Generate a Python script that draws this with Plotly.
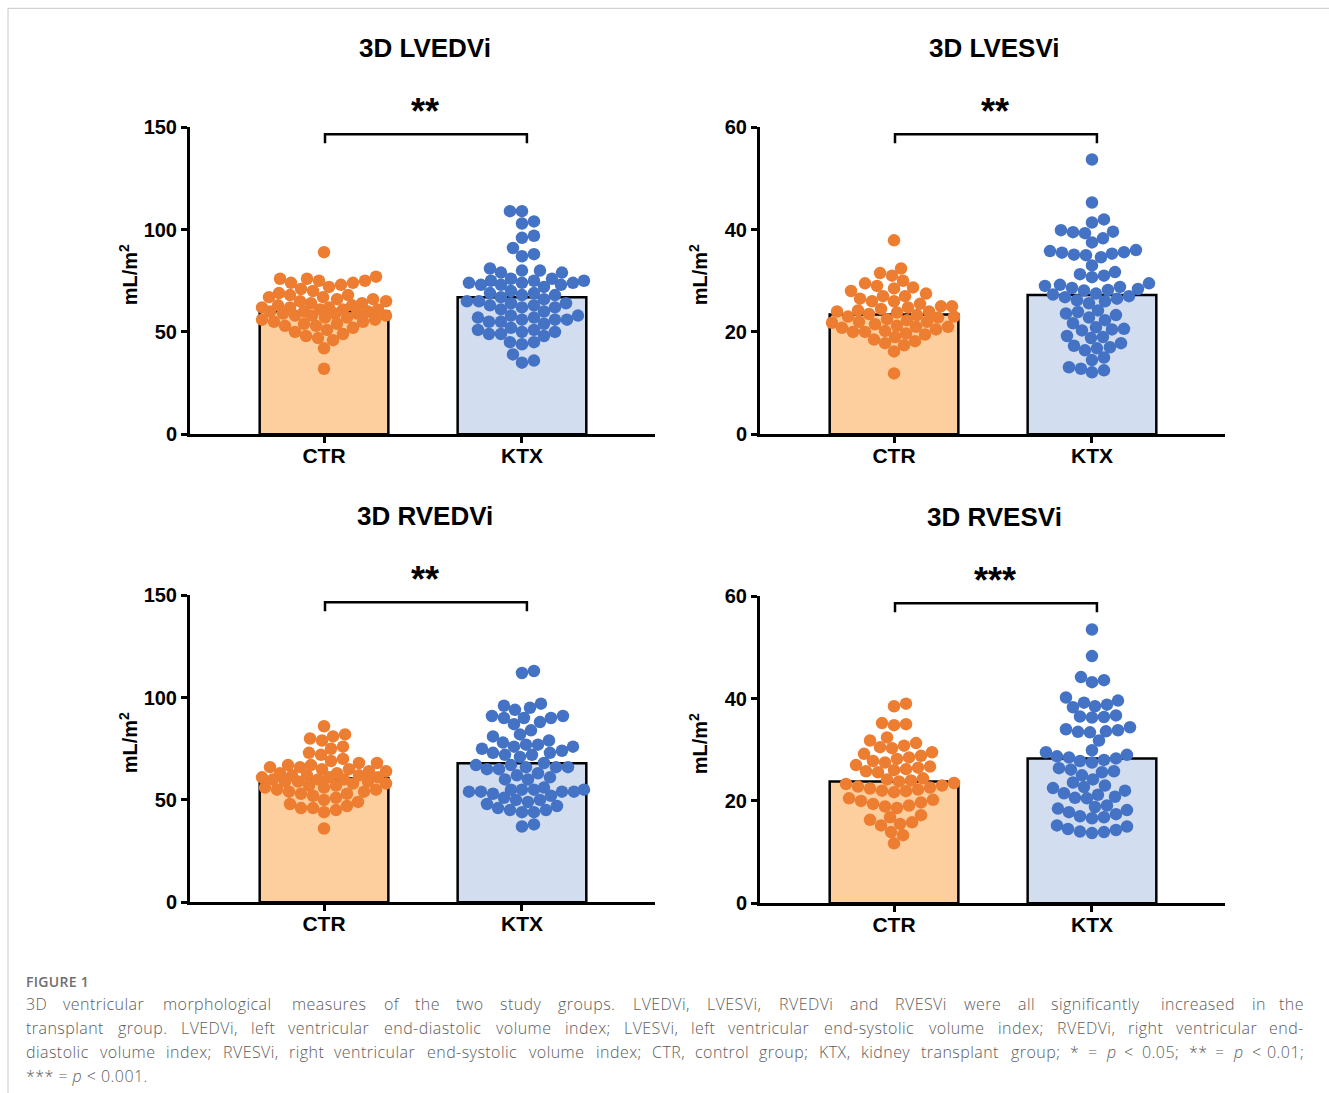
import re
import numpy as np
import plotly.graph_objects as go

# ---------------- data ----------------
categories = ["CTR", "KTX"]
titles = ["3D LVEDVi", "3D LVESVi", "3D RVEDVi", "3D RVESVi"]
stars = ["**", "**", "**", "***"]
y_max = [150, 60, 150, 60]
y_ticks = [[0, 50, 100, 150], [0, 20, 40, 60], [0, 50, 100, 150], [0, 20, 40, 60]]
y_title = "mL/m<sup>2</sup>"

# bar heights (group means)
means_lvedvi = [60.1, 66.9]
means_lvesvi = [23.4, 27.2]
means_rvedvi = [60.6, 67.9]
means_rvesvi = [23.8, 28.3]

ctr_lvedvi = [89, 77, 76, 76, 75, 75, 74, 74, 73, 72, 71, 70, 69, 68, 68, 67, 67, 66, 66, 65,
              65, 64, 64, 63, 63, 62, 62, 62, 61, 61, 61, 60, 60, 60, 59, 59, 59, 58, 58, 58,
              57, 57, 56, 56, 55, 55, 54, 54, 53, 53, 52, 51, 50, 49, 48, 47, 46, 42, 32]
ktx_lvedvi = [109, 109, 104, 103, 97, 96, 91, 88, 87, 81, 80, 80, 79, 79, 76, 76, 75, 75, 75, 74,
              74, 74, 73, 73, 73, 72, 70, 69, 69, 68, 68, 67, 66, 65, 65, 64, 64, 63, 63, 62,
              62, 61, 60, 58, 58, 57, 57, 56, 56, 56, 55, 55, 54, 52, 51, 51, 50, 50, 49, 49,
              48, 45, 45, 44, 39, 36, 35]
ctr_lvesvi = [37.9, 32.4, 31.5, 31, 30, 29.5, 29, 28.7, 28.5, 28, 27.5, 27, 27, 26.5, 26, 26, 25.5,
              25, 25, 24.8, 24.5, 24.2, 24, 24, 23.8, 23.5, 23.3, 23, 23, 22.8, 22.5, 22.3, 22, 22,
              21.8, 21.5, 21.2, 21, 21, 20.8, 20.5, 20.2, 20, 20, 19.7, 19.5, 19, 18.5, 18.2, 17.8,
              17.4, 16.2, 11.9]
ktx_lvesvi = [53.7, 45.3, 42, 41.4, 39.9, 39.6, 39.5, 39.3, 38.3, 37.5, 36, 35.8, 35.6, 35.5, 35.3,
              35.1, 35, 34.6, 33, 31.7, 31.3, 31, 30.7, 29.5, 29.2, 29, 28.8, 28.6, 28.4, 28.2, 28.1,
              27.5, 27.3, 27, 26.8, 26.5, 26.2, 26, 25.6, 24.2, 23.9, 23.6, 23.3, 22.8, 22.3, 21.7,
              20.9, 20.6, 20.5, 20.3, 19.2, 19, 18.8, 17.8, 17.3, 17, 16.8, 16.4, 15, 14.5, 13.1,
              12.8, 12.5, 12.1]
ctr_rvedvi = [86, 82, 81, 80, 79, 76, 75, 73, 72, 70, 69, 68, 68, 67, 67, 66, 66, 65, 65, 64, 64,
              63, 63, 62, 62, 62, 61, 61, 61, 60, 60, 60, 59, 59, 59, 58, 58, 57, 57, 56, 56, 55,
              55, 54, 54, 53, 53, 52, 51, 50, 49, 48, 47, 46, 46, 45, 44, 36]
ktx_rvedvi = [113, 112, 97, 96, 95, 94, 91, 91, 90, 90, 90, 88, 87, 84, 82, 81, 79, 78, 77, 77, 76,
              76, 75, 74, 73, 73, 72, 72, 71, 68, 67, 67, 66, 66, 66, 65, 65, 63, 62, 61, 60, 60,
              56, 55, 55, 55, 55, 54, 54, 54, 54, 53, 52, 51, 50, 50, 49, 48, 47, 46, 45, 45, 44,
              44, 38, 37]
ctr_rvesvi = [39, 38.5, 35.2, 35, 34.8, 32.4, 31.8, 31.3, 30.8, 30.5, 30.3, 29.5, 29.2, 28.8, 28.5,
              28.2, 27.8, 27.5, 27, 26.7, 26.5, 26.2, 26, 25.8, 25.6, 24.4, 24.2, 24, 23.8, 23.5,
              23.3, 23, 22.8, 22.6, 22.4, 22.2, 22, 21.9, 21.7, 20.5, 20.2, 20, 19.7, 19.4, 19.1,
              18.9, 18.6, 17.2, 16.8, 16.3, 15.8, 15.5, 15.2, 13.9, 13.3, 11.7]
ktx_rvesvi = [53.5, 48.3, 44.2, 43.6, 43.2, 40.2, 39.6, 39.2, 38.8, 38.5, 38.3, 36.7, 36.5, 36.4,
              36.3, 34.4, 34, 33.8, 33.6, 33.5, 33.4, 31.8, 29.9, 29.5, 29, 28.7, 28.5, 28.3, 28,
              27.8, 27.5, 26.4, 26.1, 25.8, 25.6, 25, 24.2, 23.6, 23, 22.7, 22.5, 22, 21.5, 21.2,
              20.8, 20.6, 20.5, 19.1, 18.8, 18.5, 18.2, 17.8, 17.4, 17, 16.8, 16.6, 15.2, 15, 14.5,
              14.3, 14, 13.9, 13.7]

caption_head = "FIGURE 1"
caption_lines = [
    "3D ventricular morphological measures of the two study groups. LVEDVi, LVESVi, RVEDVi and RVESVi were all significantly increased in the",
    "transplant group. LVEDVi, left ventricular end-diastolic volume index; LVESVi, left ventricular end-systolic volume index; RVEDVi, right ventricular end-",
    "diastolic volume index; RVESVi, right ventricular end-systolic volume index; CTR, control group; KTX, kidney transplant group; * = <i>p</i> < 0.05; ** = <i>p</i> < 0.01;",
    "*** = <i>p</i> < 0.001.",
]
caption_justified = [True, True, True, False]

panels = [
    (means_lvedvi, ctr_lvedvi, ktx_lvedvi),
    (means_lvesvi, ctr_lvesvi, ktx_lvesvi),
    (means_rvedvi, ctr_rvedvi, ktx_rvedvi),
    (means_rvesvi, ctr_rvesvi, ktx_rvesvi),
]

# ---------------- layout / style ----------------
W, H = 1329, 1093
Y_SCALE = 0.98                # vertical scale of the captured page
TOP = 10.9                    # page offset of the figure
BAR_FILL = ["#FECF9E", "#D2DDF0"]
DOT = ["#ED7D31", "#4472C4"]
FONT = "Liberation Sans, Arial, sans-serif"
X_RANGE = [-0.677, 1.672]
BAR_W = 0.65
# plot-area rectangles in target pixels: (left, right, top, bottom)
boxes = [(190, 655, 127, 434), (760, 1225, 127, 434), (190, 655, 595, 902), (760, 1225, 596, 903)]


def px(x):
    return x / W


def py(y):
    return 1 - (y / Y_SCALE - TOP) / H


def swarm(vals, ppu_x, ppu_y, diam=11.5, maxw=62):
    vals = np.asarray(vals, float)
    order = np.argsort(vals)
    placed = []
    offs = np.zeros(len(vals))
    cands = [0.0]
    for k in range(1, maxw + 1):
        cands += [float(k), float(-k)]
    for i in order:
        yv = vals[i] * ppu_y
        best, bestc, bestd = None, 0.0, -1.0
        near = [(a, b) for a, b in placed if abs(b - yv) < diam]
        for c in cands:
            md = min((np.hypot(c - a, yv - b) for a, b in near), default=1e9)
            if md >= diam:
                best = c
                break
            if md > bestd:
                bestd, bestc = md, c
        if best is None:
            best = bestc
        placed.append((best, yv))
        offs[i] = best / ppu_x
    return offs


# approximate Open Sans advance widths (em) for caption justification
_CW = dict(zip("abcdefghijklmnopqrstuvwxyz",
               [0.556, 0.613, 0.48, 0.613, 0.561, 0.336, 0.546, 0.614, 0.258, 0.258, 0.529, 0.258,
                0.932, 0.614, 0.6, 0.613, 0.613, 0.408, 0.476, 0.348, 0.614, 0.501, 0.772, 0.523,
                0.501, 0.468]))
_CW.update(dict(zip("ABCDEFGHIJKLMNOPQRSTUVWXYZ",
                    [0.633, 0.647, 0.631, 0.729, 0.556, 0.516, 0.728, 0.738, 0.279, 0.267, 0.611,
                     0.519, 0.907, 0.764, 0.783, 0.602, 0.783, 0.617, 0.549, 0.553, 0.729, 0.592,
                     0.897, 0.577, 0.559, 0.559])))
_CW.update({c: 0.572 for c in "0123456789"})
_CW.update({".": 0.266, ",": 0.25, ";": 0.266, "-": 0.322, "*": 0.551, "=": 0.572, "<": 0.572,
            " ": 0.26})


def text_w(s, size, spacing):
    s = re.sub(r"<[^>]+>", "", s)
    return sum(_CW.get(c, 0.55) * size + spacing for c in s)


fig = go.Figure()
layout_axes = {}
annotations = []
shapes = []

for k, ((means, ctr, ktx), box) in enumerate(zip(panels, boxes)):
    l, r, t, b = box
    sfx = "" if k == 0 else str(k + 1)
    xa, ya = "x" + sfx, "y" + sfx
    ppu_x = (r - l) / (X_RANGE[1] - X_RANGE[0])
    ppu_y = (b - t) / y_max[k]
    xs = list(range(len(categories)))
    fig.add_trace(go.Bar(
        x=xs, y=means, width=BAR_W, xaxis=xa, yaxis=ya,
        marker=dict(color=BAR_FILL, line=dict(color="black", width=2.5)),
        showlegend=False, hoverinfo="skip"))
    for gi, vals in enumerate([ctr, ktx]):
        offs = swarm(vals, ppu_x, ppu_y)
        fig.add_trace(go.Scatter(
            x=gi + offs, y=vals, mode="markers", xaxis=xa, yaxis=ya,
            marker=dict(size=12.5, color=DOT[gi], line=dict(width=0)),
            showlegend=False, cliponaxis=False))
    layout_axes["xaxis" + sfx] = dict(
        domain=[px(l), px(r)], anchor=ya, range=X_RANGE,
        tickvals=xs, ticktext=categories, showgrid=False, zeroline=False,
        showline=True, linecolor="black", linewidth=3,
        ticks="outside", ticklen=6, tickwidth=3, tickcolor="black",
        tickfont=dict(family=FONT, size=21, color="black", weight="bold"),
        ticklabelstandoff=-5, fixedrange=True)
    layout_axes["yaxis" + sfx] = dict(
        domain=[py(b), py(t)], anchor=xa, range=[0, y_max[k]],
        tickvals=y_ticks[k], showgrid=False, zeroline=False,
        showline=True, linecolor="black", linewidth=3,
        ticks="outside", ticklen=6, tickwidth=3, tickcolor="black",
        tickfont=dict(family=FONT, size=20, color="black", weight="bold"),
        fixedrange=True)
    cx = (l + r) / 2
    # panel title
    annotations.append(dict(text=titles[k], x=px(cx + 2), y=py(t - 79), xref="paper", yref="paper",
                            showarrow=False, xanchor="center", yanchor="middle",
                            font=dict(family=FONT, size=26, color="black", weight="bold")))
    # y axis title
    annotations.append(dict(text=y_title, x=px(l - 62), y=py(t + 148), xref="paper", yref="paper",
                            showarrow=False, textangle=-90, xanchor="center", yanchor="middle",
                            font=dict(family=FONT, size=20, color="black", weight="bold")))
    # significance bracket
    yb = y_max[k] * 0.977
    yl = y_max[k] * 0.948
    shapes.append(dict(type="path", xref=xa, yref=ya,
                       path=f"M 0.005,{yl} L 0.005,{yb} L 1.025,{yb} L 1.025,{yl}",
                       line=dict(color="black", width=2.5)))
    annotations.append(dict(text=stars[k], x=0.51, xref=xa, y=py(t - 16), yref="paper",
                            showarrow=False, xanchor="center", yanchor="middle",
                            font=dict(family=FONT, size=36, color="black", weight="bold")))

# frame around figure
shapes.append(dict(type="rect", xref="paper", yref="paper", x0=px(8), x1=px(1345), y0=py(1130),
                   y1=py(8), line=dict(color="#c8c8c8", width=1), layer="below"))

# caption
CAP_FONT = "Open Sans, sans-serif"
CAP_SIZE = 16
CAP_LS = 0.45
CAP_L, CAP_R = 24, 1306
annotations.append(dict(text=f'<span style="letter-spacing:0.3px">{caption_head}</span>',
                        x=px(CAP_L), y=py(981), xref="paper", yref="paper",
                        showarrow=False, xanchor="left", yanchor="middle",
                        font=dict(family=CAP_FONT, size=14, color="#6e6e6e", weight=600)))
for i, line in enumerate(caption_lines):
    yline = py(1004 + 24 * i)
    cap_font = dict(family=CAP_FONT, size=CAP_SIZE, color="#5c5c5c", weight=300)
    if not caption_justified[i]:
        annotations.append(dict(text=f'<span style="letter-spacing:{CAP_LS}px">{line}</span>',
                                x=px(CAP_L), y=yline, xref="paper", yref="paper",
                                showarrow=False, xanchor="left", yanchor="middle", font=cap_font))
        continue
    words = line.split(" ")
    widths = [text_w(w, CAP_SIZE, CAP_LS) for w in words]
    gap = (CAP_R - CAP_L - sum(widths)) / (len(words) - 1)
    xpos = CAP_L
    for j, w in enumerate(words):
        last = j == len(words) - 1
        annotations.append(dict(text=f'<span style="letter-spacing:{CAP_LS}px">{w}</span>',
                                x=px(CAP_R if last else xpos), y=yline,
                                xref="paper", yref="paper", showarrow=False,
                                xanchor="right" if last else "left", yanchor="middle",
                                font=cap_font))
        xpos += widths[j] + gap

fig.update_layout(
    width=W, height=H, margin=dict(l=0, r=0, t=0, b=0),
    paper_bgcolor="white", plot_bgcolor="rgba(0,0,0,0)",
    annotations=annotations, shapes=shapes, **layout_axes)

fig.write_html("out.html", config={"displayModeBar": False},
               post_script="document.body.style.margin='0';")
